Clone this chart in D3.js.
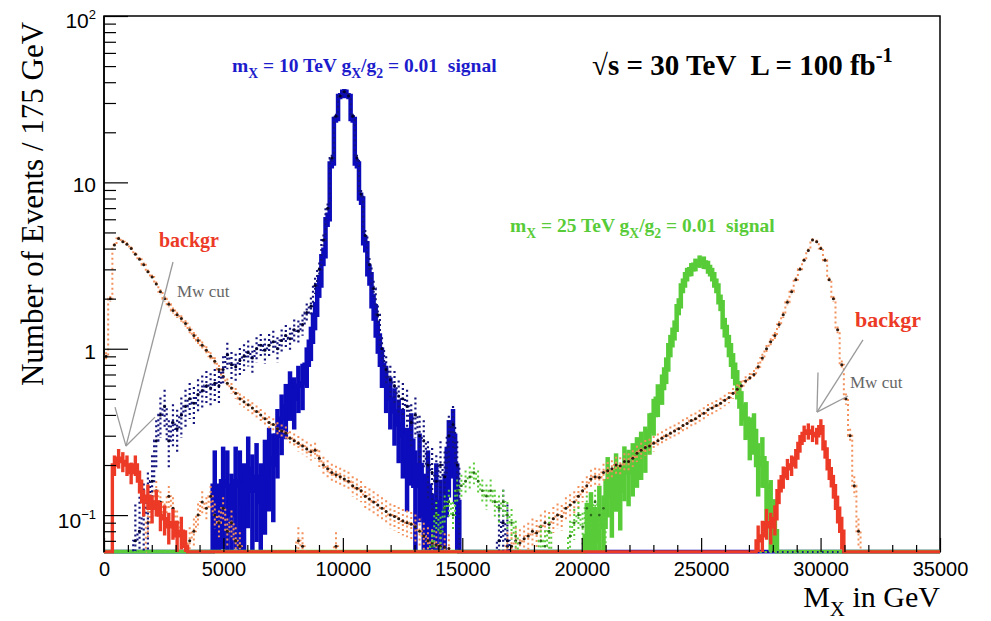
<!DOCTYPE html>
<html>
<head>
<meta charset="utf-8">
<script src="https://cdn.jsdelivr.net/npm/d3@7"></script>
<style>
  body { margin: 0; background: #fff; }
  svg { display: block; }
  text { white-space: pre; }
</style>
</head>
<body>
<svg id="chart" width="991" height="621"></svg>
<script>
// ---- binning (175 GeV bins from 0 to 35 TeV) ----
const binWidth = 175;
const nBins = 200;

// ---- axis ticks ----
const xTickValues = [0, 5000, 10000, 15000, 20000, 25000, 30000, 35000];
const xTickLabels = ["0", "5000", "10000", "15000", "20000", "25000", "30000", "35000"];
const yTickValues = [0.1, 1, 10, 100];
const yTickLabels = [["10", "\u22121"], ["1", ""], ["10", ""], ["10", "2"]];

// ---- histograms: first bin index + bin contents ----
// m_X = 10 TeV signal after the Mw cut
const sig10Start = 26;
const sig10 = [
  0.15, 0.07, 0.16, 0.15, 0.10, 0.16, 0.15, 0.12, 0.19, 0.14,
  0.17, 0.12, 0.18, 0.22, 0.20, 0.30, 0.38, 0.45, 0.55, 0.50,
  0.60, 0.62, 0.80, 1.1, 1.6, 2.4, 3.6, 6.0, 13, 24,
  33, 35, 33, 24, 13, 8.0, 4.3, 2.8, 1.8, 1.2,
  0.80, 0.60, 0.50, 0.42, 0.35, 0.30, 0.22, 0.28, 0.15, 0.20,
  0.10, 0.15, 0.07, 0.12, 0.09, 0.10, 0.25, 0.30, 0.12
];
// m_X = 10 TeV signal, no cut
const sig10AllStart = 7;
const sig10All = [
  0.07, 0.08, 0.10, 0.12, 0.16, 0.28, 0.40, 0.45, 0.28, 0.36,
  0.33, 0.40, 0.45, 0.50, 0.47, 0.53, 0.56, 0.60, 0.58, 0.62,
  0.60, 0.75, 0.92, 0.80, 0.78, 0.85, 0.90, 0.95, 0.88, 1.0,
  1.05, 0.98, 1.05, 1.1, 1.0, 1.12, 1.2, 1.15, 1.3, 1.28,
  1.4, 1.65, 1.8, 2.4, 3.0, 4.5, 7.0, 14, 25, 33,
  35, 33, 25, 14, 8.5, 4.8, 3.2, 2.3, 1.6, 1.0,
  0.75, 0.65, 0.60, 0.52, 0.50, 0.45, 0.36, 0.40, 0.30, 0.28,
  0.20, 0.18, 0.16, 0.20, 0.17, 0.30, 0.35, 0.20, 0, 0,
  0, 0, 0, 0, 0, 0, 0, 0.07, 0.09, 0.07
];
// m_X = 25 TeV signal after the Mw cut
const sig25Start = 115;
const sig25 = [
  0.075, 0.09, 0.07, 0.10, 0.085, 0.16, 0.13, 0.17, 0.14, 0.19,
  0.18, 0.20, 0.22, 0.24, 0.26, 0.32, 0.40, 0.50, 0.58, 0.75,
  1.05, 1.3, 1.8, 2.4, 2.8, 3.0, 3.2, 3.35, 3.3, 3.1,
  2.8, 2.4, 1.9, 1.35, 1.05, 0.80, 0.62, 0.45, 0.38, 0.30,
  0.32, 0.20, 0.22, 0.15, 0.11, 0.08
];
// m_X = 25 TeV signal, no cut
const sig25AllStart = 78;
const sig25All = [
  0.065, 0.10, 0.08, 0.11, 0.12, 0.10, 0.14, 0.15, 0.16, 0.17,
  0.18, 0.16, 0.14, 0.13, 0.14, 0.12, 0.11, 0.12, 0.10, 0.09,
  0.075, 0, 0, 0, 0, 0, 0.07, 0.065, 0.08, 0,
  0, 0, 0, 0.075, 0.09, 0.10, 0.085, 0.11, 0.10, 0.12,
  0.10, 0.11
];
// background for the 10 TeV selection, no cut
const bkg10Start = 0;
const bkg10 = [
  0.9, 2.0, 4.2, 4.6, 4.4, 4.25, 4.0, 3.7, 3.45, 3.2,
  2.9, 2.7, 2.45, 2.2, 2.0, 1.85, 1.7, 1.6, 1.52, 1.42,
  1.3, 1.2, 1.12, 1.05, 0.98, 0.9, 0.84, 0.75, 0.68, 0.62,
  0.58, 0.54, 0.5, 0.48, 0.46, 0.44, 0.42, 0.4, 0.38, 0.36,
  0.35, 0.33, 0.32, 0.31, 0.29, 0.28, 0.27, 0.26, 0.25, 0.24,
  0.245, 0.22, 0.2, 0.19, 0.18, 0.175, 0.17, 0.165, 0.16, 0.15,
  0.145, 0.14, 0.13, 0.125, 0.12, 0.115, 0.11, 0.105, 0.1, 0.098,
  0.095, 0.092, 0.09, 0.088, 0.085, 0.08, 0.075, 0.07, 0.068, 0.066,
  0.065, 0.064, 0.063
];
// background for the 25 TeV selection, no cut (low-mass tail + main part)
const bkg25TailStart = 10;
const bkg25Tail = [
  0.09, 0.12, 0.14, 0.12, 0.10, 0.13, 0.11, 0.09, 0.08, 0.065,
  0.07, 0.08, 0.10, 0.12, 0.11, 0.13, 0.10, 0.09, 0.11, 0.08,
  0.09, 0.07, 0.065, 0, 0, 0, 0, 0, 0, 0,
  0, 0, 0, 0, 0, 0, 0.07, 0.065, 0, 0,
  0, 0, 0, 0, 0, 0.065, 0
];
const bkg25Start = 96;
const bkg25 = [
  0.065, 0.065, 0.07, 0.068, 0.072, 0.075, 0.08, 0.078, 0.085, 0.09,
  0.088, 0.095, 0.1, 0.098, 0.11, 0.115, 0.12, 0.13, 0.14, 0.15,
  0.165, 0.17, 0.168, 0.18, 0.185, 0.19, 0.2, 0.198, 0.21, 0.21,
  0.22, 0.235, 0.245, 0.255, 0.26, 0.27, 0.28, 0.29, 0.3, 0.31,
  0.32, 0.33, 0.345, 0.355, 0.37, 0.38, 0.395, 0.41, 0.43, 0.44,
  0.455, 0.47, 0.49, 0.51, 0.54, 0.57, 0.6, 0.64, 0.67, 0.7,
  0.78, 0.88, 1.0, 1.1, 1.2, 1.4, 1.6, 1.9, 2.2, 2.6,
  3.0, 3.4, 3.9, 4.5, 4.4, 4.0, 3.4, 2.6, 2.0, 1.3,
  0.8, 0.5, 0.3, 0.15, 0.08
];
// background after the Mw cut (both selections)
const bkgCutLowStart = 2;
const bkgCutLow = [
  0.20, 0.22, 0.21, 0.20, 0.18, 0.20, 0.16, 0.12, 0.13, 0.11,
  0.12, 0.10, 0.095, 0.085, 0.09, 0.075, 0.08, 0.065
];
const bkgCutHighStart = 156;
const bkgCutHigh = [
  0.07, 0.075, 0.09, 0.085, 0.095, 0.14, 0.17, 0.19, 0.20, 0.22,
  0.27, 0.31, 0.32, 0.31, 0.30, 0.34, 0.25, 0.19, 0.15, 0.11, 0.08
];

// per-event weights, used for the sqrt(sum w^2) bin errors
const weightSig10 = 0.06, weightSig10All = 0.03, weightSig25 = 0.025,
      weightSig25All = 0.004, weightBkg = 0.003, weightBkgCut = 0.004;

// ---- layout ----
const plot = { left: 104, right: 940, top: 16, bottom: 552 };
const svg = d3.select("#chart");
const x = d3.scaleLinear().domain([0, nBins * binWidth]).range([plot.left, plot.right]);
const y = d3.scaleLog().domain([0.06, 100]).range([plot.bottom, plot.top]);
const yMin = y.domain()[0];

function histogram(...segments) {
  const h = new Array(nBins).fill(0);
  for (const [start, vals] of segments) vals.forEach((v, i) => { h[start + i] += v; });
  return h;
}

// frame first, so the histograms sitting on the lower edge cover it
svg.append("rect")
  .attr("x", plot.left).attr("y", plot.top)
  .attr("width", plot.right - plot.left).attr("height", plot.bottom - plot.top)
  .attr("fill", "none").attr("stroke", "#000").attr("stroke-width", 1.5);

svg.append("defs").append("clipPath").attr("id", "frameClip")
  .append("rect")
  .attr("x", plot.left).attr("y", plot.top)
  .attr("width", plot.right - plot.left).attr("height", plot.bottom - plot.top + 1.5);

const layer = svg.append("g").attr("clip-path", "url(#frameClip)");

const stepLine = d3.line()
  .x(d => x(d.e))
  .y(d => y(Math.max(d.v, yMin)))
  .curve(d3.curveStepAfter);

function drawHist(h, opt) {
  const pts = h.map((v, i) => ({ e: i * binWidth, v }));
  pts.push({ e: nBins * binWidth, v: h[nBins - 1] });
  const g = layer.append("g");
  const dash = opt.dotted ? "2,3" : null;
  // error bars
  g.selectAll("line.err").data(h.map((v, i) => ({ i, v })).filter(d => d.v > 0))
    .join("line")
    .attr("x1", d => x((d.i + 0.5) * binWidth))
    .attr("x2", d => x((d.i + 0.5) * binWidth))
    .attr("y1", d => y(d.v + Math.sqrt(opt.weight * d.v)))
    .attr("y2", d => y(Math.max(d.v - Math.sqrt(opt.weight * d.v), yMin)))
    .attr("stroke", opt.color)
    .attr("stroke-width", opt.width)
    .attr("stroke-dasharray", dash);
  // bin contents as steps
  g.append("path")
    .attr("d", stepLine(pts))
    .attr("fill", "none")
    .attr("stroke", opt.color)
    .attr("stroke-width", opt.width)
    .attr("stroke-linejoin", "miter")
    .attr("stroke-dasharray", dash);
  // markers
  if (opt.marker) {
    g.selectAll("circle").data(h.map((v, i) => ({ i, v })).filter(d => d.v > 0))
      .join("circle")
      .attr("cx", d => x((d.i + 0.5) * binWidth))
      .attr("cy", d => y(d.v))
      .attr("r", opt.markerSize)
      .attr("fill", opt.marker);
  }
}

const hSig10 = histogram([sig10Start, sig10]);
const hSig10All = histogram([sig10AllStart, sig10All]);
const hSig25 = histogram([sig25Start, sig25]);
const hSig25All = histogram([sig25AllStart, sig25All]);
const hBkg10 = histogram([bkg10Start, bkg10]);
const hBkg25 = histogram([bkg25TailStart, bkg25Tail], [bkg25Start, bkg25]);
const hBkgCut = histogram([bkgCutLowStart, bkgCutLow], [bkgCutHighStart, bkgCutHigh]);

drawHist(hSig10, { color: "#0c0cbc", width: 4.5, weight: weightSig10 });
drawHist(hSig25, { color: "#58cc38", width: 4.5, weight: weightSig25 });
drawHist(hBkg10, { color: "#f2915c", width: 2, weight: weightBkg, dotted: true, marker: "#2a1a10", markerSize: 1.5 });
drawHist(hBkg25, { color: "#f2915c", width: 2, weight: weightBkg, dotted: true, marker: "#2a1a10", markerSize: 1.5 });
drawHist(hSig10All, { color: "#14147e", width: 2.2, weight: weightSig10All, dotted: true, marker: "#000030", markerSize: 1.5 });
drawHist(hSig25All, { color: "#5ccc3c", width: 2, weight: weightSig25All, dotted: true, marker: "#2a6a1a", markerSize: 1.3 });
drawHist(hBkgCut, { color: "#ec3a26", width: 3.4, weight: weightBkgCut });

// ---- annotation arrows (Mw cut) ----
const arrowSegments = [
  [[921, 0.26], [2889, 3.32]],
  [[921, 0.26], [460, 0.446]],
  [[921, 0.26], [2135, 0.388]],
  [[29850, 0.416], [31776, 1.13]],
  [[29850, 0.416], [29892, 0.72]],
  [[29850, 0.416], [31148, 0.52]]
];
layer.selectAll("line.arrow").data(arrowSegments).join("line")
  .attr("x1", d => x(d[0][0])).attr("y1", d => y(d[0][1]))
  .attr("x2", d => x(d[1][0])).attr("y2", d => y(d[1][1]))
  .attr("stroke", "#9a9a9a").attr("stroke-width", 1.3);

// ---- axes ----
const axes = svg.append("g");
const xMinor = d3.range(1000, 35000, 1000).filter(v => v % 5000 !== 0);
axes.append("g").attr("transform", `translate(0,${plot.bottom})`)
  .call(d3.axisBottom(x).tickValues(xMinor).tickSizeInner(-7).tickSizeOuter(0).tickFormat(""));
axes.append("g").attr("transform", `translate(0,${plot.bottom})`)
  .call(d3.axisBottom(x).tickValues(xTickValues).tickSizeInner(-14).tickSizeOuter(0)
    .tickPadding(10).tickFormat((d, i) => xTickLabels[i]))
  .call(g => g.selectAll("text").attr("font-size", 20)
    .attr("font-family", "'Liberation Sans', Arial, Helvetica, sans-serif").attr("fill", "#000"));

const yMinor = [0.07, 0.08, 0.09, 0.2, 0.3, 0.4, 0.5, 0.6, 0.7, 0.8, 0.9,
  2, 3, 4, 5, 6, 7, 8, 9, 20, 30, 40, 50, 60, 70, 80, 90];
axes.append("g").attr("transform", `translate(${plot.left},0)`)
  .call(d3.axisLeft(y).tickValues(yMinor).tickSizeInner(-12).tickSizeOuter(0).tickFormat(""));
axes.append("g").attr("transform", `translate(${plot.left},0)`)
  .call(d3.axisLeft(y).tickValues(yTickValues).tickSizeInner(-24).tickSizeOuter(0).tickFormat(""));
axes.selectAll(".domain").attr("stroke", "none");
axes.selectAll(".tick line").attr("stroke", "#000").attr("stroke-width", 1.2);

const yLabelShift = [13, 10, 10, 12];
yTickValues.forEach((v, i) => {
  const t = svg.append("text")
    .attr("x", plot.left - 8).attr("y", y(v) + yLabelShift[i])
    .attr("text-anchor", "end")
    .attr("font-family", "'Liberation Sans', Arial, Helvetica, sans-serif")
    .attr("font-size", 21).attr("fill", "#000");
  t.append("tspan").text(yTickLabels[i][0]);
  if (yTickLabels[i][1]) {
    t.append("tspan").attr("font-size", 13).attr("dy", -9).text(yTickLabels[i][1]);
  }
});

// left edge of the frame on top of the histograms
svg.append("line")
  .attr("x1", plot.left).attr("x2", plot.left)
  .attr("y1", plot.top).attr("y2", plot.bottom)
  .attr("stroke", "#000").attr("stroke-width", 1.5);

// ---- rich text helper (sub/superscripts) ----
function richText(parent, px, py, parts, style) {
  const t = parent.append("text").attr("x", px).attr("y", py);
  Object.entries(style).forEach(([k, v]) => t.attr(k, v));
  let shift = 0;
  parts.forEach(p => {
    const want = p.sub ? p.size * 0.3 : p.sup ? -p.size * 0.45 : 0;
    const s = t.append("tspan").attr("dy", want - shift).text(p.t);
    if (p.sub || p.sup) s.attr("font-size", p.size * 0.7);
    shift = want;
  });
  return t;
}

const serif = "'Liberation Serif', 'Times New Roman', Times, serif";

// axis titles
svg.append("text")
  .attr("transform", "translate(43,204) rotate(-90)")
  .attr("text-anchor", "middle")
  .attr("font-family", serif).attr("font-size", 31).attr("fill", "#000")
  .text("Number of Events / 175 GeV");

richText(svg, plot.right, 607, [
  { t: "M", size: 30 }, { t: "X", sub: true, size: 30 }, { t: " in GeV", size: 30 }
], { "text-anchor": "end", "font-family": serif, "font-size": 30, fill: "#000" });

// signal labels
const sigLabelSize = 19.5;
richText(svg, x(5359), y(46), [
  { t: "m", size: sigLabelSize }, { t: "X", sub: true, size: sigLabelSize }, { t: " = 10 TeV g", size: sigLabelSize },
  { t: "X", sub: true, size: sigLabelSize }, { t: "/g", size: sigLabelSize }, { t: "2", sub: true, size: sigLabelSize },
  { t: " = 0.01  signal", size: sigLabelSize }
], { "font-family": serif, "font-size": sigLabelSize, "font-weight": "bold", fill: "#1c1ccc" });

richText(svg, x(17000), y(5.0), [
  { t: "m", size: sigLabelSize }, { t: "X", sub: true, size: sigLabelSize }, { t: " = 25 TeV g", size: sigLabelSize },
  { t: "X", sub: true, size: sigLabelSize }, { t: "/g", size: sigLabelSize }, { t: "2", sub: true, size: sigLabelSize },
  { t: " = 0.01  signal", size: sigLabelSize }
], { "font-family": serif, "font-size": sigLabelSize, "font-weight": "bold", fill: "#58cc38" });

// collider conditions
richText(svg, x(20430), y(44.2), [
  { t: "\u221As = 30 TeV  L = 100 fb", size: 29 }, { t: "-1", sup: true, size: 29 }
], { "font-family": serif, "font-size": 29, "font-weight": "bold", fill: "#000" });

// background labels
svg.append("text").attr("x", x(2303)).attr("y", y(4.08))
  .attr("font-family", serif).attr("font-size", 20).attr("font-weight", "bold")
  .attr("fill", "#ec3a26").text("backgr");
svg.append("text").attr("x", x(31441)).attr("y", y(1.35))
  .attr("font-family", serif).attr("font-size", 22).attr("font-weight", "bold")
  .attr("fill", "#ec3a26").text("backgr");
svg.append("text").attr("x", x(3056)).attr("y", y(2.04))
  .attr("font-family", serif).attr("font-size", 17).attr("fill", "#666")
  .text("Mw cut");
svg.append("text").attr("x", x(31232)).attr("y", y(0.58))
  .attr("font-family", serif).attr("font-size", 17).attr("fill", "#666")
  .text("Mw cut");
</script>
</body>
</html>
